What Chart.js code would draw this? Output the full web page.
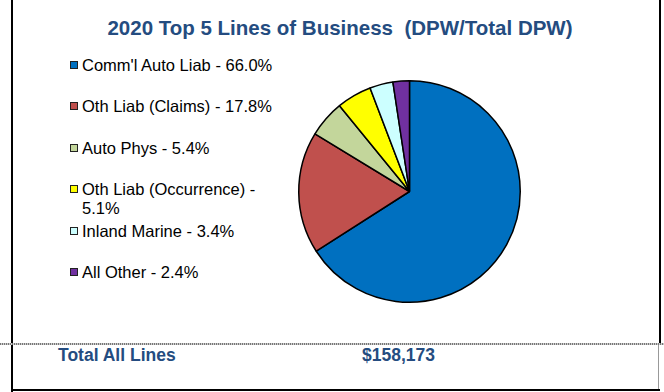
<!DOCTYPE html>
<html>
<head>
<meta charset="utf-8">
<script src="https://cdn.jsdelivr.net/npm/chart.js@4/dist/chart.umd.min.js"></script>
<style>
  html, body { margin: 0; padding: 0; background: #fff; }
  #page { position: relative; width: 664px; height: 392px; overflow: hidden; background: #fff;
          font-family: "Liberation Sans", Arial, sans-serif; }
  .vline { position: absolute; background: #000; }
  #title { position: absolute; left: 0; width: 680px; top: 16px; text-align: center;
           font-size: 20.5px; font-weight: bold; color: #244C80; white-space: pre; }
  #chartBox { position: absolute; left: 296px; top: 78px; width: 227px; height: 227px; }
  #legend { position: absolute; left: 70px; top: 0; }
  .item { position: absolute; left: 0; width: 215px; font-size: 16.5px; line-height: 19px; color: #000; }
  .sw { position: absolute; left: 0; top: 5px; width: 6px; height: 6px; border: 1px solid #222; }
  .txt { position: absolute; left: 12px; width: 200px; }
  #dots { position: absolute; left: 0; top: 343px; width: 664px; height: 2px;
          background: repeating-linear-gradient(90deg, #777 0 1px, #ccc 1px 2px); }
  .foot { position: absolute; top: 345px; font-size: 17.5px; font-weight: bold; color: #244C80; }
</style>
</head>
<body>
<div id="page">
  <div class="vline" style="left:11px;top:0;width:2px;height:392px;"></div>
  <div class="vline" style="left:659px;top:0;width:2px;height:343px;"></div>
  <div class="vline" style="left:658px;top:345px;width:1px;height:45px;background:#999;"></div>
  <div class="vline" style="left:11px;top:389px;width:649px;height:2px;"></div>
  <div id="dots"></div>
  <div id="title">2020 Top 5 Lines of Business  (DPW/Total DPW)</div>
  <div id="legend"></div>
  <div id="chartBox"><canvas id="c" width="227" height="227"></canvas></div>
  <div class="foot" style="left:58px;" id="totLabel"></div>
  <div class="foot" style="left:362px;" id="totValue"></div>
</div>
<script>
const categories = ["Comm'l Auto Liab", "Oth Liab (Claims)", "Auto Phys", "Oth Liab (Occurrence)", "Inland Marine", "All Other"];
const shares = [66.0, 17.8, 5.4, 5.1, 3.4, 2.4];
const colors = ["#0070C0", "#C0504D", "#C3D69B", "#FFFF00", "#CCFFFF", "#7030A0"];
const totalLabel = "Total All Lines";
const totalValue = "$158,173";

const labels = categories.map((c, i) => c + " - " + shares[i].toFixed(1) + "%");

const chart = new Chart(document.getElementById('c'), {
  type: 'pie',
  data: {
    labels: labels,
    datasets: [{
      data: shares,
      backgroundColor: colors,
      borderColor: '#000',
      borderWidth: 1.5
    }]
  },
  options: {
    responsive: false,
    animation: false,
    layout: { padding: 2 },
    plugins: {
      legend: { display: false },
      tooltip: { enabled: false },
      title: { display: false }
    }
  }
});

// HTML legend built from Chart.js legend items
const legendEl = document.getElementById('legend');
const items = Chart.overrides.pie.plugins.legend.labels.generateLabels(chart);
items.forEach((it, i) => {
  const d = document.createElement('div');
  d.className = 'item';
  d.style.top = (55.5 + i * 41.5) + 'px';
  const sw = document.createElement('div');
  sw.className = 'sw';
  sw.style.background = it.fillStyle;
  const t = document.createElement('div');
  t.className = 'txt';
  t.textContent = it.text;
  d.appendChild(sw);
  d.appendChild(t);
  legendEl.appendChild(d);
});
document.getElementById('totLabel').textContent = totalLabel;
document.getElementById('totValue').textContent = totalValue;
</script>
</body>
</html>
